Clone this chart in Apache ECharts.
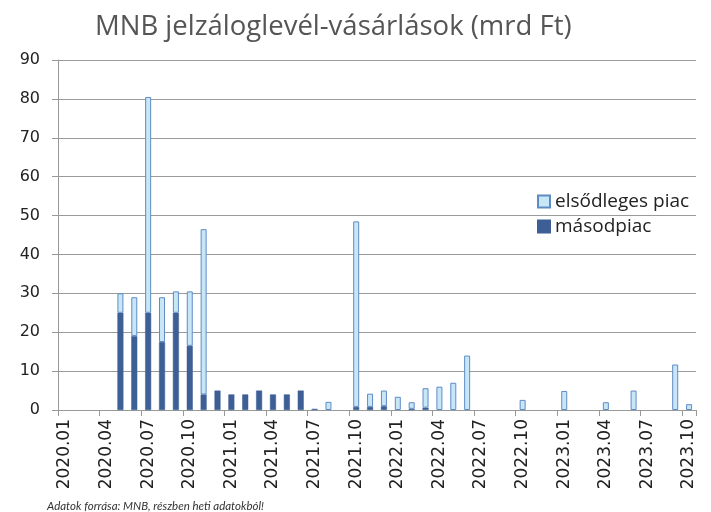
<!DOCTYPE html>
<html>
<head>
<meta charset="utf-8">
<script src="https://cdn.jsdelivr.net/npm/echarts@6/dist/echarts.min.js"></script>
<style>
  html, body { margin: 0; padding: 0; background: #fff; }
  #chart { width: 711px; height: 512px; }
</style>
</head>
<body>
<div id="chart"></div>
<script>
// havi kategóriák 2020.01 - 2023.10
var months = [
  '2020.01','2020.02','2020.03','2020.04','2020.05','2020.06','2020.07','2020.08','2020.09','2020.10','2020.11','2020.12',
  '2021.01','2021.02','2021.03','2021.04','2021.05','2021.06','2021.07','2021.08','2021.09','2021.10','2021.11','2021.12',
  '2022.01','2022.02','2022.03','2022.04','2022.05','2022.06','2022.07','2022.08','2022.09','2022.10','2022.11','2022.12',
  '2023.01','2023.02','2023.03','2023.04','2023.05','2023.06','2023.07','2023.08','2023.09','2023.10'
];

// másodpiac (sötétkék)
var masodpiac = [
  null, null, null, null, 25, 19, 25, 17.5, 25, 16.5, 4, 5,
  4, 4, 5, 4, 4, 5, 0.3, null, null, 0.8, 0.8, 1.0,
  null, 0.3, 0.6, null, null, null, null, null, null, null, null, null,
  null, null, null, null, null, null, null, null, null, null
];

// elsődleges piac (világoskék)
var elsodleges = [
  null, null, null, null, 5, 10, 55.5, 11.5, 5.5, 14, 42.5, null,
  null, null, null, null, null, null, null, 2.1, null, 47.7, 3.4, 4.0,
  3.4, 1.7, 5.0, 6.0, 7.0, 14.0, null, null, null, 2.6, null, null,
  4.9, null, null, 2.0, null, 5.0, null, null, 11.7, 1.5
];

var chart = echarts.init(document.getElementById('chart'));

var option = {
  animation: false,
  title: {
    text: 'MNB jelzáloglevél-vásárlások (mrd Ft)',
    left: 95,
    top: 13,
    padding: 0,
    textStyle: {
      fontFamily: 'Open Sans',
      fontSize: 27.5,
      fontWeight: 'normal',
      color: '#555'
    }
  },
  legend: {
    orient: 'vertical',
    left: 537,
    top: 192,
    padding: 0,
    itemWidth: 12,
    itemHeight: 12,
    itemGap: 6,
    icon: 'rect',
    data: ['elsődleges piac', 'másodpiac'],
    textStyle: {
      fontFamily: 'Open Sans',
      fontSize: 19,
      color: '#222',
      padding: [0, 0, 0, 0]
    }
  },
  grid: {
    left: 58,
    right: 15,
    top: 60,
    bottom: 102,
    containLabel: false
  },
  xAxis: {
    type: 'category',
    data: months,
    axisLine: { lineStyle: { color: '#999', width: 1 } },
    axisTick: { show: true, interval: 2, length: 6, lineStyle: { color: '#999' } },
    axisLabel: {
      interval: 2,
      rotate: 90,
      margin: 9,
      fontFamily: 'DejaVu Sans',
      fontSize: 17,
      color: '#222'
    }
  },
  yAxis: {
    type: 'value',
    min: 0,
    max: 90,
    interval: 10,
    axisLine: { show: true, lineStyle: { color: '#999' } },
    axisTick: { show: true, length: 6, lineStyle: { color: '#999' } },
    axisLabel: {
      margin: 18,
      fontFamily: 'DejaVu Sans',
      fontSize: 16,
      color: '#222'
    },
    splitLine: { lineStyle: { color: '#9a9a9a', width: 1 } }
  },
  series: [
    {
      name: 'másodpiac',
      type: 'bar',
      stack: 'total',
      barWidth: 6,
      data: masodpiac,
      itemStyle: { color: '#3D5F95', borderColor: '#3D5F95', borderWidth: 0.5 }
    },
    {
      name: 'elsődleges piac',
      type: 'bar',
      stack: 'total',
      barWidth: 6,
      data: elsodleges,
      itemStyle: { color: '#C8E7F6', borderColor: '#5F8BC4', borderWidth: 1 }
    }
  ],
  graphic: [
    {
      type: 'text',
      left: 47,
      top: 500,
      style: {
        text: 'Adatok forrása: MNB, részben heti adatokból!',
        font: 'italic 11.5px Lato',
        fill: '#333'
      }
    }
  ]
};

chart.setOption(option);
</script>
</body>
</html>
